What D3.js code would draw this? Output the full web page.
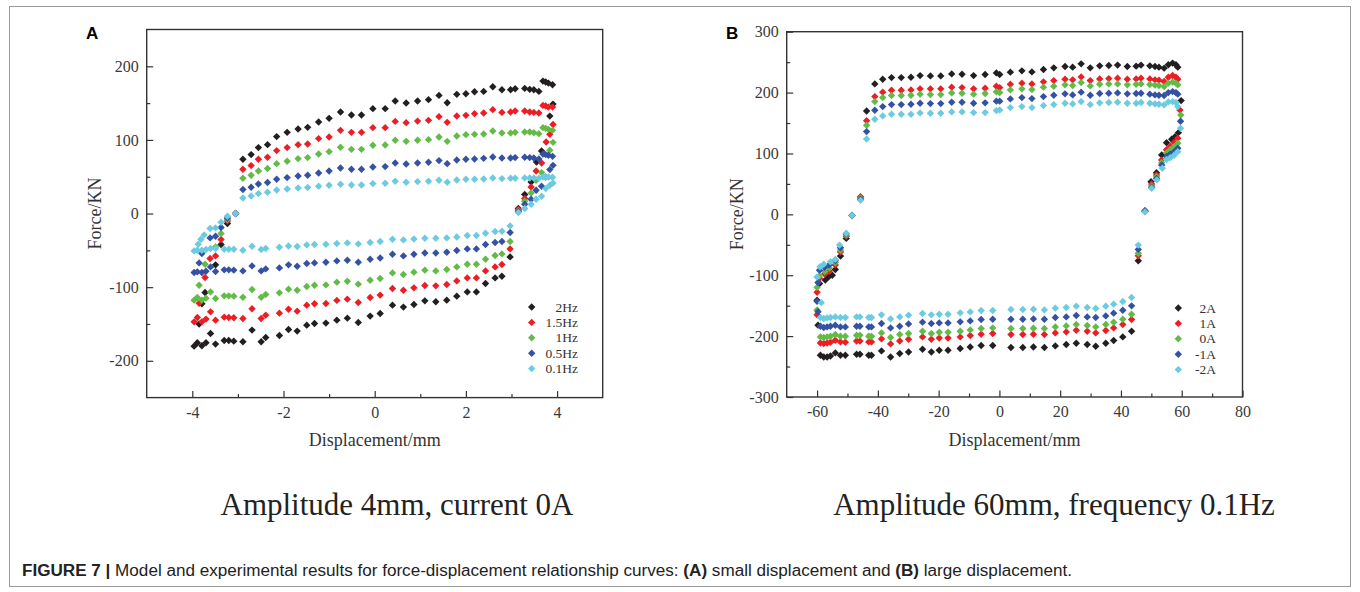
<!DOCTYPE html>
<html>
<head>
<meta charset="utf-8">
<script src="https://cdn.jsdelivr.net/npm/d3@7"></script>
<style>
  body { margin: 0; background: #fff; }
  svg text { font-family: "Liberation Serif", "Times New Roman", serif; }
</style>
</head>
<body>
<svg id="fig" width="1360" height="592"></svg>
<script>
// ---------- panel A : amplitude 4mm, current 0A ----------
var freqNames = ["2Hz", "1.5Hz", "1Hz", "0.5Hz", "0.1Hz"];

// displacement of the samples on the loading (upper) and unloading (lower) branch
var dispUpA = [-2.89,-2.71,-2.55,-2.35,-2.15,-1.92,-1.68,-1.47,-1.23,-1.00,-0.75,-0.51,-0.29,-0.04,0.23,0.45,
  0.69,0.94,1.18,1.41,1.59,1.80,2.00,2.19,2.39,2.59,2.79,2.98,3.08,3.29,3.40,3.49,3.60,3.69,3.75,3.81,3.90];
var dispLowA = [-3.96,-3.89,-3.79,-3.70,-3.60,-3.49,-3.30,-3.20,-3.09,-2.89,-2.69,-2.49,-2.39,-2.09,-1.89,-1.70,
  -1.49,-1.32,-1.07,-0.83,-0.60,-0.36,-0.10,0.12,0.39,0.63,0.86,1.10,1.34,1.58,1.80,2.03,2.23,2.43,2.64,2.79,2.97];

var upA_2Hz = [73.7,80.1,89.6,93.6,104.5,110.3,114.8,117.1,124.3,129.3,137.9,133.8,133.8,142.5,142.5,152.8,
  150.1,152.8,154.7,160.5,150.6,161.9,162.8,165.5,165.9,172.3,168.2,168.2,169.6,170.0,168.7,168.2,165.9,179.9,178.6,177.2,175.0];
var upA_15Hz = [60.1,65.1,73.7,76.4,85.5,89.6,93.6,94.4,101.8,103.9,113.0,110.3,110.3,116.7,116.7,125.2,
  123.5,125.6,126.6,131.6,123.9,132.5,133.4,135.7,136.5,141.1,137.4,137.9,139.2,139.2,137.9,137.4,136.5,146.9,146.0,144.6,144.6];
var upA_1Hz = [47.9,52.0,57.8,61.1,67.8,71.0,74.6,76.0,80.9,84.1,90.0,87.2,87.2,92.7,93.1,99.5,
  98.1,99.5,100.4,103.9,98.1,105.3,107.2,107.6,108.0,112.1,109.4,109.4,110.3,110.7,110.7,109.9,108.5,116.7,115.7,114.4,113.0];
var upA_05Hz = [32.6,35.7,40.2,42.1,46.5,48.8,51.0,52.0,55.1,57.8,61.9,60.1,60.1,63.2,63.8,68.7,
  67.3,68.7,69.6,71.9,67.8,72.7,73.7,74.1,75.0,76.8,75.4,75.4,76.0,76.4,76.0,75.4,74.1,80.9,80.1,79.1,77.7];
var upA_01Hz = [21.2,23.9,27.1,28.9,32.0,33.4,34.7,35.3,37.0,38.4,39.8,38.8,38.8,40.7,41.1,43.8,
  42.5,43.4,43.8,45.2,42.5,45.6,46.5,46.5,46.9,48.3,47.5,47.9,47.9,48.3,48.3,48.3,47.9,49.7,49.3,49.7,49.3];

var lowA_2Hz = [-180.1,-175.5,-179.6,-175.5,-162.9,-177.3,-172.4,-172.4,-173.3,-174.2,-158.3,-174.2,-168.3,-165.6,-157.4,-159.7,
  -151.6,-149.3,-148.8,-144.8,-142.1,-147.9,-139.3,-135.7,-124.4,-127.1,-123.5,-118.6,-119.9,-117.6,-112.2,-106.4,-106.4,-95.0,-87.4,-85.1,-58.9];
var lowA_15Hz = [-147.1,-141.1,-147.1,-143.4,-133.5,-144.8,-140.7,-141.1,-141.6,-142.5,-129.4,-142.5,-138.0,-135.3,-129.9,-132.6,
  -124.4,-122.6,-122.1,-118.0,-116.3,-120.8,-114.0,-110.8,-101.8,-104.1,-100.9,-97.7,-98.2,-96.3,-91.5,-87.4,-87.4,-77.9,-72.5,-69.2,-48.0];
var lowA_1Hz = [-117.6,-114.0,-117.6,-114.9,-106.4,-115.3,-111.8,-111.8,-112.2,-113.6,-103.1,-113.6,-109.9,-107.7,-102.7,-104.1,
  -99.0,-97.3,-96.9,-93.2,-91.9,-95.9,-90.5,-88.2,-80.6,-82.8,-79.6,-76.9,-77.9,-76.0,-72.5,-68.8,-68.8,-62.0,-57.0,-54.8,-38.0];
var lowA_05Hz = [-80.1,-79.2,-80.1,-78.3,-72.5,-78.7,-76.5,-76.5,-76.9,-77.9,-71.1,-77.9,-75.2,-73.8,-69.7,-71.5,
  -67.8,-67.0,-66.1,-64.3,-63.4,-66.1,-62.0,-60.3,-55.2,-57.5,-55.2,-53.5,-53.5,-52.5,-50.2,-48.0,-48.0,-42.1,-39.3,-38.0,-25.8];
var lowA_01Hz = [-50.7,-49.8,-49.8,-48.8,-47.5,-47.5,-48.4,-48.4,-48.4,-49.8,-44.4,-48.8,-47.5,-45.7,-44.0,-44.8,
  -42.6,-42.1,-41.7,-40.7,-39.9,-41.2,-39.3,-38.0,-34.9,-35.8,-34.5,-33.5,-33.5,-33.1,-31.8,-29.9,-29.9,-26.7,-24.4,-24.0,-16.8];

// turning parts of the loops, [displacement, force]
var rightA_2Hz = [[3.91,148.7],[3.84,132.4],[3.66,85.0],[3.55,70.0],[3.43,42.9],[3.29,25.8],[3.15,6.8]];
var rightA_15Hz = [[3.91,121.0],[3.84,107.6],[3.76,97.2],[3.66,68.7],[3.54,57.8],[3.43,36.1],[3.29,20.4],[3.15,5.4]];
var rightA_1Hz = [[3.91,96.7],[3.84,85.9],[3.66,55.6],[3.54,45.2],[3.43,28.0],[3.29,16.7],[3.15,4.0]];
var rightA_05Hz = [[3.91,65.5],[3.84,59.7],[3.75,49.7],[3.66,37.0],[3.54,31.6],[3.43,19.4],[3.29,12.6],[3.15,3.0]];
var rightA_01Hz = [[3.91,41.5],[3.84,38.4],[3.75,33.9],[3.66,23.5],[3.54,19.4],[3.43,12.6],[3.29,6.8],[3.15,1.4]];
var leftA_2Hz = [[-3.85,-150.0],[-3.79,-122.6],[-3.72,-107.2],[-3.49,-69.7],[-3.37,-42.1],[-3.23,-13.6],[-3.05,0]];
var leftA_15Hz = [[-3.85,-122.0],[-3.72,-86.9],[-3.61,-61.0],[-3.49,-57.5],[-3.37,-35.3],[-3.23,-10.0],[-3.05,0]];
var leftA_1Hz = [[-3.85,-97.3],[-3.72,-68.8],[-3.49,-45.3],[-3.37,-27.1],[-3.23,-8.0],[-3.05,0]];
var leftA_05Hz = [[-3.85,-67.0],[-3.79,-54.3],[-3.61,-33.1],[-3.49,-30.8],[-3.37,-19.0],[-3.23,-6.0],[-3.05,0]];
var leftA_01Hz = [[-3.87,-41.7],[-3.81,-34.9],[-3.74,-29.0],[-3.61,-20.4],[-3.49,-19.5],[-3.37,-11.8],[-3.23,-3.7],[-3.05,0]];

// ---------- panel B : amplitude 60mm, frequency 0.1Hz ----------
var currentNames = ["2A", "1A", "0A", "-1A", "-2A"];

var dispUpB = [-43.7,-41.0,-38.4,-35.5,-32.3,-29.1,-26.1,-22.7,-19.3,-15.7,-12.3,-8.5,-4.7,-1.0,0.1,
  3.6,7.4,10.7,14.5,17.9,21.6,24.1,26.9,29.9,33.0,36.0,38.9,42.1,45.0,46.6,49.5,51.2,52.5,54.2,55.6,57.0,58.1,58.7];
var dispLowB = [-58.9,-57.8,-56.7,-55.6,-54.0,-52.3,-50.7,-47.0,-45.9,-43.0,-42.1,-38.8,-35.8,-32.8,-29.9,-25.3,-22.4,-19.8,
  -16.9,-12.9,-9.6,-6.0,-2.2,3.8,7.7,11.2,14.8,18.4,22.0,25.3,28.9,31.7,35.0,37.6,40.6,43.5];

var upB_2A = [169.8,214.3,221.9,224.6,224.6,225.2,227.9,227.4,227.4,230.7,230.1,227.9,229.6,232.3,229.6,
  233.6,235.7,234.0,237.8,240.6,242.8,241.8,247.2,240.6,243.9,244.4,245.1,242.8,243.4,245.1,243.9,242.8,241.8,240.1,245.6,248.4,245.6,241.8];
var upB_1A = [153.9,193.4,200.7,203.9,203.9,204.4,206.1,206.1,206.1,208.9,208.2,206.1,207.2,210.5,208.2,
  213.8,215.5,214.3,217.6,219.7,222.0,220.9,225.8,219.7,222.5,223.0,223.7,222.0,222.5,223.7,222.5,220.9,220.4,218.1,225.3,228.0,225.3,222.0];
var upB_0A = [146.4,185.2,191.8,195.1,195.1,195.7,197.4,196.7,196.7,199.5,199.0,197.4,198.4,201.2,200.0,
  204.4,206.1,204.9,208.9,210.5,212.7,211.5,216.4,211.0,213.8,214.3,214.3,212.7,213.8,214.3,213.2,212.2,211.5,209.9,215.5,217.1,215.5,212.7];
var upB_m1A = [135.9,171.1,177.0,180.3,180.3,180.9,182.6,181.9,181.9,184.2,184.2,182.6,183.1,185.9,185.9,
  189.6,191.8,190.1,193.4,195.7,197.9,196.2,200.7,195.7,198.4,199.0,199.5,197.9,198.4,199.0,197.4,196.2,195.7,195.1,200.0,201.6,200.0,197.4];
var upB_m2A = [123.8,156.3,161.7,164.5,164.5,164.5,166.6,166.1,166.1,168.3,168.3,167.1,167.1,170.4,171.5,
  175.3,177.0,175.3,178.6,180.3,182.6,181.4,185.2,180.3,183.1,183.7,184.2,182.6,182.6,183.7,182.6,181.4,180.9,179.8,184.7,185.2,183.7,177.0];

var lowB_2A = [-231.4,-234.2,-234.2,-232.6,-227.6,-231.4,-231.4,-229.8,-229.8,-231.4,-231.4,-224.3,-234.2,-228.6,-226.0,-221.5,-226.0,-223.2,
  -223.2,-220.4,-217.8,-215.5,-215.5,-218.8,-218.8,-217.8,-218.8,-216.1,-213.8,-211.7,-213.8,-216.6,-211.7,-207.2,-201.3,-191.9];
var lowB_1A = [-211.2,-212.2,-211.2,-210.0,-206.7,-209.5,-210.0,-207.9,-207.9,-209.5,-209.5,-204.6,-212.8,-207.9,-205.1,-201.3,-205.1,-203.0,
  -203.0,-201.3,-199.0,-196.9,-195.7,-197.4,-197.4,-196.9,-197.4,-194.7,-193.1,-190.3,-191.9,-194.7,-190.8,-186.5,-180.9,-172.7];
var lowB_0A = [-201.3,-202.3,-201.3,-200.2,-197.4,-200.2,-200.2,-198.5,-198.5,-200.2,-200.2,-194.7,-202.3,-197.4,-195.7,-191.9,-195.7,-193.6,
  -193.6,-191.9,-189.8,-187.5,-186.5,-187.5,-187.5,-187.0,-187.5,-184.9,-183.2,-180.9,-182.6,-184.9,-180.9,-177.1,-172.2,-164.0];
var lowB_m1A = [-183.7,-185.9,-184.9,-183.7,-182.1,-184.9,-184.9,-183.7,-183.7,-184.9,-184.9,-179.3,-186.5,-183.7,-179.9,-177.1,-179.3,-178.3,
  -178.3,-176.6,-175.0,-172.7,-172.2,-172.2,-172.2,-171.7,-172.2,-169.4,-168.4,-166.1,-168.4,-169.4,-166.8,-162.3,-157.4,-150.3];
var lowB_m2A = [-169.4,-171.1,-170.1,-169.4,-168.4,-169.4,-169.4,-168.4,-168.4,-169.4,-169.4,-165.1,-171.7,-168.4,-165.6,-162.8,-165.1,-164.0,
  -164.0,-161.8,-160.2,-157.9,-157.9,-156.3,-156.3,-155.8,-156.9,-154.1,-153.0,-150.8,-153.0,-154.6,-150.8,-147.5,-143.1,-136.5];

var rightB_2A = [[59.8,186.8],[58.9,134.2],[57.8,127.6],[56.7,123.4],[55.0,117.8],[53.4,97.5],[51.7,68.4],[49.9,53.6],[47.9,5.9],[45.7,-76.3]];
var rightB_1A = [[59.4,171.5],[58.7,125.0],[57.5,118.0],[56.2,112.0],[55.0,106.0],[53.4,89.3],[51.7,64.6],[50.1,49.8],[47.9,5.0],[45.7,-68.0]];
var rightB_0A = [[59.7,163.3],[58.7,116.8],[57.5,111.0],[56.2,106.0],[55.0,101.0],[53.4,84.9],[51.7,61.8],[50.1,46.5],[47.9,5.0],[45.7,-64.0]];
var rightB_m1A = [[59.6,153.0],[58.7,108.6],[57.5,103.0],[56.2,99.0],[55.0,95.0],[53.4,81.1],[51.7,59.0],[50.1,44.4],[47.9,5.0],[45.7,-57.6]];
var rightB_m2A = [[59.6,141.4],[58.7,103.0],[57.5,97.0],[56.2,93.0],[55.0,90.0],[53.6,75.7],[51.8,56.6],[50.1,42.9],[47.9,4.0],[45.7,-50.5]];
var leftB_2A = [[-59.7,-182],[-60,-141],[-59.2,-113.5],[-57.3,-108],[-56.2,-102.6],[-55,-100],[-54,-90.5],[-52.3,-68.6],[-50.4,-39.5],[-48.5,-2],[-45.7,28]];
var leftB_1A = [[-60,-165],[-60,-128],[-59.2,-105],[-57.5,-98],[-56,-93],[-54,-83],[-52.3,-62],[-50.4,-36],[-48.5,-2],[-45.7,29]];
var leftB_0A = [[-60,-157],[-60,-120],[-59.2,-101],[-57.5,-94],[-56,-88],[-54,-79],[-52.3,-59],[-50.4,-34],[-48.5,-2],[-45.7,27]];
var leftB_m1A = [[-59.7,-160],[-60,-143],[-59.7,-112],[-59.2,-92],[-57.5,-87],[-56,-83],[-54,-76],[-52.3,-55],[-50.4,-32],[-48.5,-2],[-45.7,25]];
var leftB_m2A = [[-58.6,-145],[-60,-103],[-59,-86],[-57.8,-82],[-55.6,-78],[-54,-74],[-52.6,-50.5],[-50.4,-31],[-48.5,-2],[-45.7,23]];

var seriesColors = ["#231f20", "#ee1d25", "#62bb47", "#3451a3", "#6ccbe0"];

// glue the branches of one loop together
function loop(dUp, fUp, right, dLow, fLow, left) {
  var pts = [];
  dUp.forEach(function (d, i) { pts.push([d, fUp[i]]); });
  right.forEach(function (p) { pts.push(p); });
  dLow.forEach(function (d, i) { pts.push([d, fLow[i]]); });
  left.forEach(function (p) { pts.push(p); });
  return pts;
}

var loopsA = [
  loop(dispUpA, upA_2Hz, rightA_2Hz, dispLowA, lowA_2Hz, leftA_2Hz),
  loop(dispUpA, upA_15Hz, rightA_15Hz, dispLowA, lowA_15Hz, leftA_15Hz),
  loop(dispUpA, upA_1Hz, rightA_1Hz, dispLowA, lowA_1Hz, leftA_1Hz),
  loop(dispUpA, upA_05Hz, rightA_05Hz, dispLowA, lowA_05Hz, leftA_05Hz),
  loop(dispUpA, upA_01Hz, rightA_01Hz, dispLowA, lowA_01Hz, leftA_01Hz)
];
var loopsB = [
  loop(dispUpB, upB_2A, rightB_2A, dispLowB, lowB_2A, leftB_2A),
  loop(dispUpB, upB_1A, rightB_1A, dispLowB, lowB_1A, leftB_1A),
  loop(dispUpB, upB_0A, rightB_0A, dispLowB, lowB_0A, leftB_0A),
  loop(dispUpB, upB_m1A, rightB_m1A, dispLowB, lowB_m1A, leftB_m1A),
  loop(dispUpB, upB_m2A, rightB_m2A, dispLowB, lowB_m2A, leftB_m2A)
];

var svg = d3.select("#fig");
var diamond = "M0,-3.7L3.7,0L0,3.7L-3.7,0Z";

// outer figure border
svg.append("rect")
  .attr("x", 9.5).attr("y", 6.5)
  .attr("width", 1341).attr("height", 580)
  .attr("fill", "none").attr("stroke", "#9a9a9a").attr("stroke-width", 1);

function drawPanel(p) {
  var x = d3.scaleLinear().domain(p.xDomain).range([p.left, p.right]);
  var y = d3.scaleLinear().domain(p.yDomain).range([p.bottom, p.top]);
  var g = svg.append("g");

  // minor ticks
  g.append("g")
    .attr("transform", "translate(0," + p.bottom + ")")
    .call(d3.axisBottom(x).tickValues(p.xMinor).tickSize(-3.5).tickFormat(""))
    .call(function (a) { a.select(".domain").remove(); });
  g.append("g")
    .attr("transform", "translate(" + p.left + ",0)")
    .call(d3.axisLeft(y).tickValues(p.yMinor).tickSize(-3.5).tickFormat(""))
    .call(function (a) { a.select(".domain").remove(); });

  // major ticks + labels
  var xa = g.append("g")
    .attr("transform", "translate(0," + p.bottom + ")")
    .call(d3.axisBottom(x).tickValues(p.xTicks).tickSize(-6.5).tickPadding(9).tickFormat(d3.format("d")));
  var ya = g.append("g")
    .attr("transform", "translate(" + p.left + ",0)")
    .call(d3.axisLeft(y).tickValues(p.yTicks).tickSize(-6.5).tickPadding(8).tickFormat(d3.format("d")));
  [xa, ya].forEach(function (a) {
    a.select(".domain").remove();
    a.selectAll("text")
      .style("font-family", "Liberation Serif")
      .style("font-size", "16px")
      .attr("fill", "#3a3a3a")
      .text(function (d) { return d < 0 ? "-" + Math.abs(d) : d; });
  });
  g.selectAll(".tick line").attr("stroke", "#333").attr("stroke-width", 1.2);

  // frame
  g.append("rect")
    .attr("x", p.left).attr("y", p.top)
    .attr("width", p.right - p.left).attr("height", p.bottom - p.top)
    .attr("fill", "none").attr("stroke", "#333").attr("stroke-width", 1.4);

  // points, first series at the back
  p.loops.forEach(function (pts, i) {
    g.append("g").selectAll("path")
      .data(pts)
      .enter().append("path")
      .attr("d", diamond)
      .attr("transform", function (d) { return "translate(" + x(d[0]) + "," + y(d[1]) + ")"; })
      .attr("fill", seriesColors[i]);
  });

  // legend
  p.names.forEach(function (n, i) {
    var ly = p.legendY + i * 15.4;
    g.append("path").attr("d", diamond)
      .attr("transform", "translate(" + p.legendMarkX + "," + ly + ")")
      .attr("fill", seriesColors[i]);
    g.append("text")
      .attr("x", p.legendTextX).attr("y", ly + 4.5)
      .attr("text-anchor", "end")
      .style("font-size", "13.5px")
      .attr("fill", "#333")
      .text(n);
  });

  // axis titles
  g.append("text")
    .attr("transform", "translate(" + p.yTitleX + "," + ((p.top + p.bottom) / 2) + ") rotate(-90)")
    .attr("text-anchor", "middle")
    .style("font-size", "18px")
    .attr("fill", "#333")
    .text("Force/KN");
  g.append("text")
    .attr("x", (p.left + p.right) / 2).attr("y", p.xTitleY)
    .attr("text-anchor", "middle")
    .style("font-size", "18px")
    .attr("fill", "#333")
    .text("Displacement/mm");

  // panel letter
  g.append("text")
    .attr("x", p.letterX).attr("y", 39)
    .style("font-family", "Liberation Sans, Arial, sans-serif")
    .style("font-weight", "bold")
    .style("font-size", "17px")
    .attr("fill", "#000")
    .text(p.letter);

  // condition under the panel
  g.append("text")
    .attr("x", p.subX).attr("y", 515)
    .attr("text-anchor", "middle")
    .style("font-size", "31px")
    .attr("fill", "#222")
    .text(p.sub);
}

drawPanel({
  letter: "A", letterX: 86,
  xDomain: [-5, 5], yDomain: [-250, 250],
  left: 146.7, right: 602.7, top: 29.5, bottom: 397.6,
  xTicks: [-4, -2, 0, 2, 4], xMinor: [-3, -1, 1, 3],
  yTicks: [-200, -100, 0, 100, 200], yMinor: [-150, -50, 50, 150],
  loops: loopsA, names: freqNames,
  legendMarkX: 531.7, legendTextX: 578, legendY: 307,
  yTitleX: 101, xTitleY: 446,
  sub: "Amplitude 4mm, current 0A", subX: 397
});

drawPanel({
  letter: "B", letterX: 726,
  xDomain: [-70, 80], yDomain: [-300, 300],
  left: 786.7, right: 1242.5, top: 31.7, bottom: 397,
  xTicks: [-60, -40, -20, 0, 20, 40, 60, 80], xMinor: [-50, -30, -10, 10, 30, 50, 70],
  yTicks: [-300, -200, -100, 0, 100, 200, 300], yMinor: [-250, -150, -50, 50, 150, 250],
  loops: loopsB, names: currentNames,
  legendMarkX: 1178.3, legendTextX: 1216, legendY: 308,
  yTitleX: 743, xTitleY: 446,
  sub: "Amplitude 60mm, frequency 0.1Hz", subX: 1054
});

// figure caption, stretched to the width it has in the source
var cap = svg.append("text")
  .attr("x", 22).attr("y", 576)
  .attr("textLength", 1050)
  .attr("lengthAdjust", "spacingAndGlyphs")
  .style("font-family", "Liberation Sans, Arial, sans-serif")
  .style("font-size", "16px")
  .attr("fill", "#222");
cap.append("tspan").style("font-weight", "bold").text("FIGURE 7 | ");
cap.append("tspan").text("Model and experimental results for force-displacement relationship curves: ");
cap.append("tspan").style("font-weight", "bold").text("(A)");
cap.append("tspan").text(" small displacement and ");
cap.append("tspan").style("font-weight", "bold").text("(B)");
cap.append("tspan").text(" large displacement.");
</script>
</body>
</html>
